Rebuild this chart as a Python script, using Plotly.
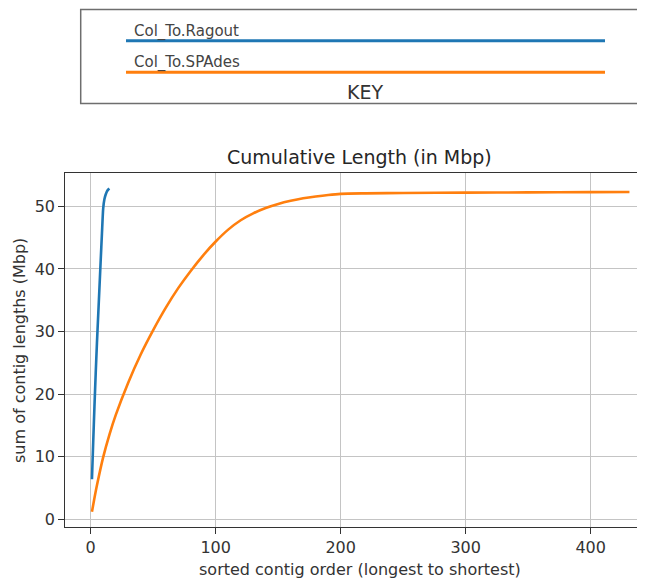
import plotly.graph_objects as go

# ---- data ----
ragout_order = [1, 2, 3, 4, 5, 6, 7, 8, 9, 10, 11, 12, 13, 14, 15]
ragout_cum_mbp = [6.4, 12.3, 18.0, 23.3, 28.2, 32.6, 37.0, 41.4, 45.7, 49.7,
                  51.2, 51.9, 52.4, 52.7, 52.85]

spades_order = [1, 3, 5, 10, 15, 20, 30, 40, 50, 60, 70, 80, 90, 100, 110, 120,
                130, 140, 150, 160, 170, 180, 190, 200, 220, 250, 300, 350, 400, 431]
spades_cum_mbp = [1.2, 3.4, 5.44, 9.94, 13.54, 16.64, 21.84, 26.34, 30.24, 33.79,
                  36.94, 39.69, 42.19, 44.39, 46.29, 47.79, 48.89, 49.74, 50.39,
                  50.89, 51.29, 51.59, 51.83, 52.0, 52.09, 52.15, 52.2, 52.24,
                  52.28, 52.3]

series_names = ["Col_To.Ragout", "Col_To.SPAdes"]
colors = ["#1f77b4", "#ff7f0e"]
x_ticks = [0, 100, 200, 300, 400]
y_ticks = [0, 10, 20, 30, 40, 50]

# ---- geometry (pixels in the browser window; page body has an 8px margin) ----
OFF = 8
W, H = 645 - OFF, 580 - OFF
PL, PR, PT, PB = 65, 645, 173.3, 526.7   # plot area in window pixels


def px(xp):
    return (xp - PL) / (PR - PL)


def py(yp):
    return (PB - yp) / (PB - PT)


fig = go.Figure()
fig.add_trace(go.Scatter(x=ragout_order, y=ragout_cum_mbp, mode="lines",
                         name=series_names[0],
                         line=dict(color=colors[0], width=2.6, shape="spline",
                                   smoothing=0.6)))
fig.add_trace(go.Scatter(x=spades_order, y=spades_cum_mbp, mode="lines",
                         name=series_names[1],
                         line=dict(color=colors[1], width=2.6, shape="spline",
                                   smoothing=0.8)))

axis_common = dict(
    showgrid=True, gridcolor="#c4c4c4", gridwidth=1.3,
    zeroline=False, showline=True, linecolor="#333333", linewidth=1.3,
    ticks="outside", ticklen=5.6, tickwidth=1.3, tickcolor="#333333",
    tickfont=dict(family="DejaVu Sans", size=16, color="#333333"),
)

fig.update_layout(
    width=W, height=H, autosize=False,
    margin=dict(l=PL - OFF, r=0, t=PT - OFF, b=(580 - PB), pad=0),
    paper_bgcolor="white", plot_bgcolor="white",
    showlegend=False,
    xaxis=dict(range=[-20.56, -20.56 + (PR - PL) / 1.25], tickvals=x_ticks,
               mirror=True, **axis_common),
    yaxis=dict(range=[-1.23, 55.34], tickvals=y_ticks, mirror=False,
               **axis_common),
)

shapes = []
# key box
shapes.append(dict(type="rect", xref="paper", yref="paper",
                   x0=px(80.7), x1=px(700), y0=py(104), y1=py(10),
                   line=dict(color="#6e6e6e", width=1.5), fillcolor="white",
                   layer="above"))
for yk, c in zip([41.3, 72.7], colors):
    shapes.append(dict(type="line", xref="paper", yref="paper",
                       x0=px(126), x1=px(605), y0=py(yk), y1=py(yk),
                       line=dict(color=c, width=3), layer="above"))
fig.update_layout(shapes=shapes)

ann = []
for name, yk in zip(series_names, [32, 62.5]):
    ann.append(dict(text=name, xref="paper", yref="paper", x=px(132), y=py(yk),
                    xanchor="left", yanchor="middle", showarrow=False,
                    font=dict(family="DejaVu Sans", size=15, color="#444444")))
ann.append(dict(text="KEY", xref="paper", yref="paper", x=px(365), y=py(92),
                xanchor="center", yanchor="middle", showarrow=False,
                font=dict(family="DejaVu Sans", size=19, color="#333333")))
ann.append(dict(text="Cumulative Length (in Mbp)", xref="paper", yref="paper",
                x=px(359), y=py(157), xanchor="center", yanchor="middle",
                showarrow=False,
                font=dict(family="DejaVu Sans", size=19, color="#262626")))
ann.append(dict(text="sorted contig order (longest to shortest)", xref="paper",
                yref="paper", x=px(360), y=py(569), xanchor="center",
                yanchor="middle", showarrow=False,
                font=dict(family="DejaVu Sans", size=16, color="#333333")))
ann.append(dict(text="sum of contig lengths (Mbp)", xref="paper", yref="paper",
                x=px(19), y=py(351), xanchor="center", yanchor="middle",
                textangle=-90, showarrow=False,
                font=dict(family="DejaVu Sans", size=16, color="#333333")))
fig.update_layout(annotations=ann)

fig.write_html("out.html")
